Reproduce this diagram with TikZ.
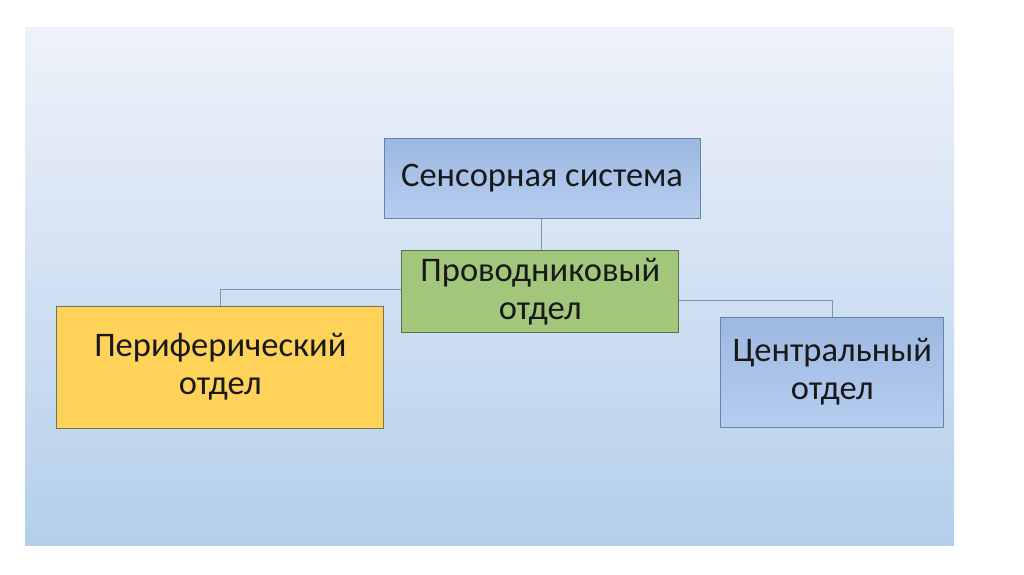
\documentclass[tikz,border=0pt]{standalone}
\usepackage{fontspec}
\setmainfont{Carlito}
\begin{document}
\begin{tikzpicture}[x=1pt,y=-1pt,
  box/.style={draw, line width=1pt, align=center, inner sep=0pt, text=black!90,
    font=\fontsize{34.5}{38}\selectfont},
  bluebox/.style={box, draw=boxline, top color=bluetop, bottom color=bluebot},
  greenbox/.style={box, draw=greenline, fill=greenfill},
  yellowbox/.style={box, draw=yellowline, fill=yellowfill},
  conn/.style={draw=linecol, line width=0.9pt}]
\definecolor{bluetop}{HTML}{9DB8E1}
\definecolor{bluebot}{HTML}{B6CDEE}
\definecolor{boxline}{HTML}{6A82A6}
\definecolor{greenfill}{HTML}{A2C67A}
\definecolor{greenline}{HTML}{5E6E52}
\definecolor{yellowfill}{HTML}{FFD25A}
\definecolor{yellowline}{HTML}{77705A}
\definecolor{linecol}{HTML}{7F93AB}
\definecolor{slidetop}{HTML}{EEF2FA}
\definecolor{slidebot}{HTML}{B4CFEB}
\useasboundingbox (0,0) rectangle (1024,574);
\fill[white] (0,0) rectangle (1024,574);
\shade[top color=slidetop, bottom color=slidebot] (25,27) rectangle (954,545);
\node[bluebox, minimum width=316pt, minimum height=80pt] (sens) at (542,178) {Сенсорная система};
\node[greenbox, minimum width=277pt, minimum height=82pt] (prov) at (540.3,291.7) {Проводниковый\\отдел};
\node[yellowbox, minimum width=327pt, minimum height=122pt] (peri) at (220.3,367) {Периферический\\отдел};
\node[bluebox, minimum width=223pt, minimum height=110pt] (cent) at (832.3,372) {Центральный\\отдел};
\draw[conn] (sens.south -| 541,0) -- (prov.north -| 541,0);
\draw[conn] (prov.west |- 0,289) -- (peri.north |- 0,289) -- (peri.north);
\draw[conn] (prov.east |- 0,300) -- (cent.north |- 0,300) -- (cent.north);
\end{tikzpicture}
\end{document}
